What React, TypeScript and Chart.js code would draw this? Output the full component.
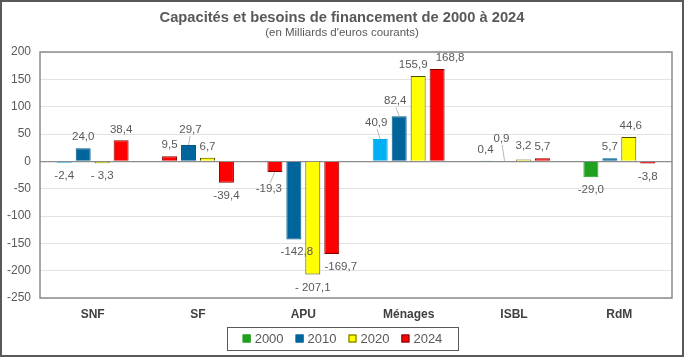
import React, { useEffect, useRef } from "react";
import { Chart, registerables } from "chart.js";

Chart.register(...registerables);

const categories = ["SNF", "SF", "APU", "Ménages", "ISBL", "RdM"];
const seriesNames = ["2000", "2010", "2020", "2024"];
const values2000 = [-2.4, 9.5, -19.3, 40.9, 0.4, -29.0];
const values2010 = [24.0, 29.7, -142.8, 82.4, 0.9, 5.7];
const values2020 = [-3.3, 6.7, -207.1, 155.9, 3.2, 44.6];
const values2024 = [38.4, -39.4, -169.7, 168.8, 5.7, -3.8];
const yTicks = [-250, -200, -150, -100, -50, 0, 50, 100, 150, 200];

const TITLE = "Capacités et besoins de financement de 2000 à 2024";
const SUBTITLE = "(en Milliards d'euros courants)";

// colours
const LIGHTBLUE = "#00B0F0";
const GREEN = "#1FA01F";
const BLUE = "#00659C";
const YELLOW = "#FFFF00";
const RED = "#FF0000";
const legendColors = [GREEN, BLUE, YELLOW, RED];
const legendBorders = [GREEN, BLUE, "#5C5C00", "#800000"];
const colors2000 = [LIGHTBLUE, RED, RED, LIGHTBLUE, LIGHTBLUE, GREEN];
const borders2000 = [LIGHTBLUE, "#800000", "#800000", LIGHTBLUE, LIGHTBLUE, GREEN];

// label styling: offsets [dx, dy] per dataset/index, leader lines, spaced labels
const labelOffsets: Record<string, [number, number]> = {
  "1-1": [2, -4],
  "0-2": [-6, 4],
  "1-2": [3, -1],
  "3-2": [9, 0],
  "0-3": [-4, -5],
  "1-3": [-4, -4],
  "2-3": [-5, 0],
  "3-3": [13, 0],
  "1-4": [-3, -11],
  "2-4": [0, -3],
  "2-5": [2, 0],
};
const leaders = ["1-1", "0-2", "0-3", "1-3", "1-4"];
const spaced = ["2-0", "2-2"];

const FONT = "'Liberation Sans', Arial, sans-serif";

const fmt = (v: number, key: string) => {
  const s = Math.abs(v).toFixed(1).replace(".", ",");
  if (v < 0) return (spaced.includes(key) ? "- " : "-") + s;
  return s;
};

const decorPlugin = {
  id: "decor",
  beforeDraw(chart: any) {
    const { ctx, width, height } = chart;
    ctx.save();
    ctx.fillStyle = "#ffffff";
    ctx.fillRect(0, 0, width, height);
    ctx.restore();
  },
  afterDatasetsDraw(chart: any) {
    const { ctx, chartArea } = chart;
    ctx.save();
    // plot frame
    ctx.strokeStyle = "#8C8C8C";
    ctx.lineWidth = 1.5;
    ctx.strokeRect(chartArea.left, chartArea.top, chartArea.right - chartArea.left, chartArea.bottom - chartArea.top);

    // data labels
    ctx.font = `11.5px ${FONT}`;
    ctx.fillStyle = "#595959";
    ctx.textAlign = "center";
    ctx.textBaseline = "middle";
    chart.data.datasets.forEach((ds: any, di: number) => {
      const meta = chart.getDatasetMeta(di);
      meta.data.forEach((bar: any, i: number) => {
        const v = ds.data[i];
        const key = `${di}-${i}`;
        const off = labelOffsets[key] || [0, 0];
        const x = bar.x + off[0];
        const y = (v >= 0 ? bar.y - 11 : bar.y + 13) + off[1];
        if (leaders.includes(key)) {
          ctx.strokeStyle = "#A6A6A6";
          ctx.lineWidth = 0.8;
          ctx.beginPath();
          ctx.moveTo(x + (bar.x - x) * 0.2, v >= 0 ? y + 6 : y - 6);
          ctx.lineTo(bar.x, bar.y);
          ctx.stroke();
        }
        ctx.fillText(fmt(v, key), x, y);
      });
    });
    ctx.restore();
  },
  afterDraw(chart: any) {
    const { ctx, width, height } = chart;
    ctx.save();
    // title
    ctx.fillStyle = "#595959";
    ctx.textAlign = "center";
    ctx.textBaseline = "middle";
    ctx.font = `bold 14.7px ${FONT}`;
    ctx.fillText(TITLE, width / 2, 18);
    ctx.font = `11.5px ${FONT}`;
    ctx.fillText(SUBTITLE, width / 2, 33);

    // legend
    ctx.font = `13px ${FONT}`;
    const box = 8;
    const gap = 4;
    const itemGap = 12;
    const widths = chart.data.datasets.map((d: any) => box + gap + ctx.measureText(d.label).width);
    const total = widths.reduce((a: number, b: number) => a + b, 0) + itemGap * (widths.length - 1);
    const cx = 342.5;
    const ly = 338.5;
    ctx.strokeStyle = "#595959";
    ctx.lineWidth = 1;
    ctx.strokeRect(227.5, 327.5, 231, 23);
    let x = cx - total / 2;
    chart.data.datasets.forEach((d: any, i: number) => {
      ctx.fillStyle = legendColors[i];
      ctx.fillRect(x, ly - box / 2, box, box);
      ctx.strokeStyle = legendBorders[i];
      ctx.strokeRect(x + 0.5, ly - box / 2 + 0.5, box - 1, box - 1);
      ctx.fillStyle = "#595959";
      ctx.textAlign = "left";
      ctx.fillText(d.label, x + box + gap, ly + 0.5);
      x += widths[i] + itemGap;
    });

    // outer border
    ctx.strokeStyle = "#595959";
    ctx.lineWidth = 2;
    ctx.strokeRect(1, 1, width - 2, height - 2);
    ctx.restore();
  },
};

export default function App() {
  const ref = useRef<HTMLCanvasElement | null>(null);
  useEffect(() => {
    document.body.style.margin = "0";
    if (!ref.current) return;
    const chart = new Chart(ref.current, {
      type: "bar",
      data: {
        labels: categories,
        datasets: [
          { label: seriesNames[0], data: values2000, backgroundColor: colors2000, borderColor: borders2000, borderWidth: 1 },
          { label: seriesNames[1], data: values2010, backgroundColor: BLUE, borderColor: "#005A8A", borderWidth: 1 },
          { label: seriesNames[2], data: values2020, backgroundColor: YELLOW, borderColor: "#4D4D00", borderWidth: 1 },
          { label: seriesNames[3], data: values2024, backgroundColor: RED, borderColor: "#800000", borderWidth: 1 },
        ],
      },
      options: {
        responsive: false,
        animation: false,
        devicePixelRatio: 1,
        layout: { padding: { top: 52, left: 0, right: 12, bottom: 0 } },
        categoryPercentage: 0.72,
        barPercentage: 0.79,
        plugins: {
          legend: { display: false },
          title: { display: false },
          tooltip: { enabled: false },
        },
        scales: {
          x: {
            grid: { display: false, drawTicks: false },
            border: { display: false },
            ticks: {
              color: "#404040",
              font: { family: FONT, size: 12, weight: "bold" },
              padding: 9,
            },
            afterFit: (s: any) => { s.height = 59; },
          },
          y: {
            min: -250,
            max: 200,
            afterBuildTicks: (s: any) => { s.ticks = yTicks.map((v) => ({ value: v })); },
            grid: {
              drawTicks: false,
              color: (c: any) => (c.tick && c.tick.value === 0 ? "#8C8C8C" : "#E3E3E3"),
              lineWidth: (c: any) => (c.tick && c.tick.value === 0 ? 1.2 : 1),
            },
            border: { display: false },
            ticks: {
              color: "#595959",
              font: { family: FONT, size: 12 },
              padding: 9,
              callback: (v: any) => String(v),
            },
            afterFit: (s: any) => { s.width = 40; },
          },
        },
      },
      plugins: [decorPlugin],
    });
    return () => chart.destroy();
  }, []);
  return <canvas ref={ref} width={684} height={357} style={{ display: "block" }} />;
}
